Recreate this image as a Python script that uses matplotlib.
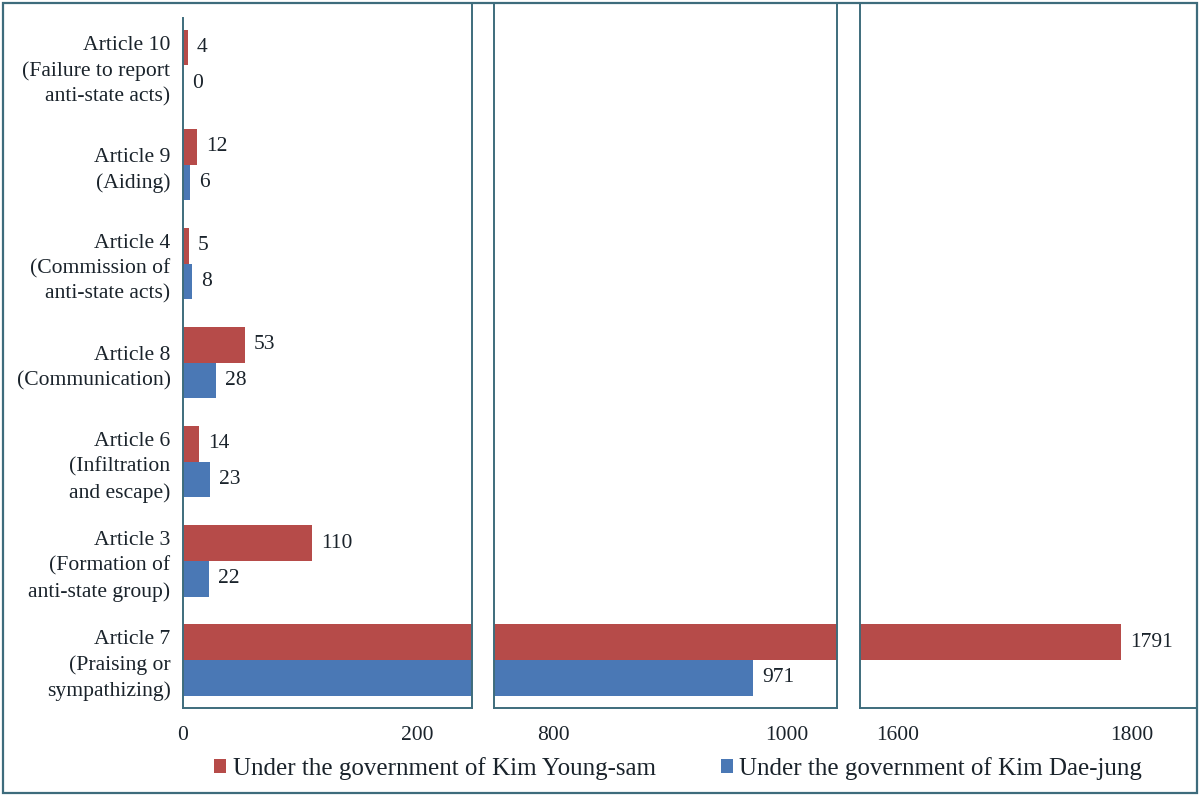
import matplotlib
matplotlib.use("Agg")
import matplotlib.pyplot as plt
from matplotlib.patches import Patch, Rectangle
import numpy as np

categories = [
    "Article 7\n(Praising or\nsympathizing)",
    "Article 3\n(Formation of\nanti-state group)",
    "Article 6\n(Infiltration\nand escape)",
    "Article 8\n(Communication)",
    "Article 4\n(Commission of\nanti-state acts)",
    "Article 9\n(Aiding)",
    "Article 10\n(Failure to report\nanti-state acts)",
]
kim_young_sam = [1791, 110, 14, 53, 5, 12, 4]
kim_dae_jung = [971, 22, 23, 28, 8, 6, 0]
series_names = ["Under the government of Kim Young-sam",
                "Under the government of Kim Dae-jung"]
panel_limits = [(0, 247), (749.6, 1042.8), (1568, 1856)]
panel_ticks = [[0, 200], [800, 1000], [1600, 1800]]

RED = "#b64b49"
BLUE = "#4a78b5"
EDGE = "#3e6c7c"
TXT = "#1a232b"

plt.rcParams["font.family"] = ["Liberation Serif", "DejaVu Serif"]

W, H = 1200, 796
fig = plt.figure(figsize=(W / 100, H / 100), dpi=100)

def fx(px):
    return px / W

bottom = (H - 708) / H
top = (H - 3) / H
panels_px = [(183, 472), (494, 837), (860, 1197)]

y = np.arange(len(categories))
bh = 0.36
ylim = (-0.485, 6.63)

for i, ((x0, x1), lim, ticks) in enumerate(zip(panels_px, panel_limits, panel_ticks)):
    ax = fig.add_axes([fx(x0), bottom, fx(x1 - x0), top - bottom])
    ax.barh(y + bh / 2, kim_young_sam, height=bh, color=RED, zorder=2)
    ax.barh(y - bh / 2, kim_dae_jung, height=bh, color=BLUE, zorder=2)
    ax.set_xlim(*lim)
    ax.set_ylim(*ylim)
    ax.set_xticks(ticks)
    ax.set_xticklabels([str(t) for t in ticks])
    ax.tick_params(axis="x", length=0, pad=13, labelsize=15.5, labelcolor=TXT)
    for sp in ax.spines.values():
        sp.set_color(EDGE)
        sp.set_linewidth(1.4)
    ax.spines["top"].set_visible(False)
    if i == 0:
        ax.set_yticks(y)
        ax.set_yticklabels(categories, fontsize=15.6, color=TXT, linespacing=1.42)
        ax.tick_params(axis="y", length=0, pad=9)
        ax.spines["left"].set_bounds(ylim[0], 6.48)
    else:
        ax.set_yticks([])
    for vals, off in ((kim_young_sam, bh / 2), (kim_dae_jung, -bh / 2)):
        for yy, v in zip(y, vals):
            if lim[0] <= v <= lim[1]:
                ax.annotate(str(v), (v, yy + off), xytext=(6.5, 0),
                            textcoords="offset points", va="center", ha="left",
                            fontsize=15.5, color=TXT)

# outer frame
fig.patches.append(Rectangle((fx(3), 3 / H), fx(1194), (H - 6) / H,
                             transform=fig.transFigure, fill=False,
                             edgecolor=EDGE, linewidth=1.6))

handles = [Patch(facecolor=RED), Patch(facecolor=BLUE)]
leg = fig.legend(handles, series_names, ncol=2, loc="center",
                 bbox_to_anchor=(0.565, 0.035), frameon=False,
                 fontsize=18, handlelength=0.5, handleheight=0.5,
                 handletextpad=0.25, columnspacing=2.6)
for t in leg.get_texts():
    t.set_color(TXT)

fig.savefig("out.png", dpi=100)
